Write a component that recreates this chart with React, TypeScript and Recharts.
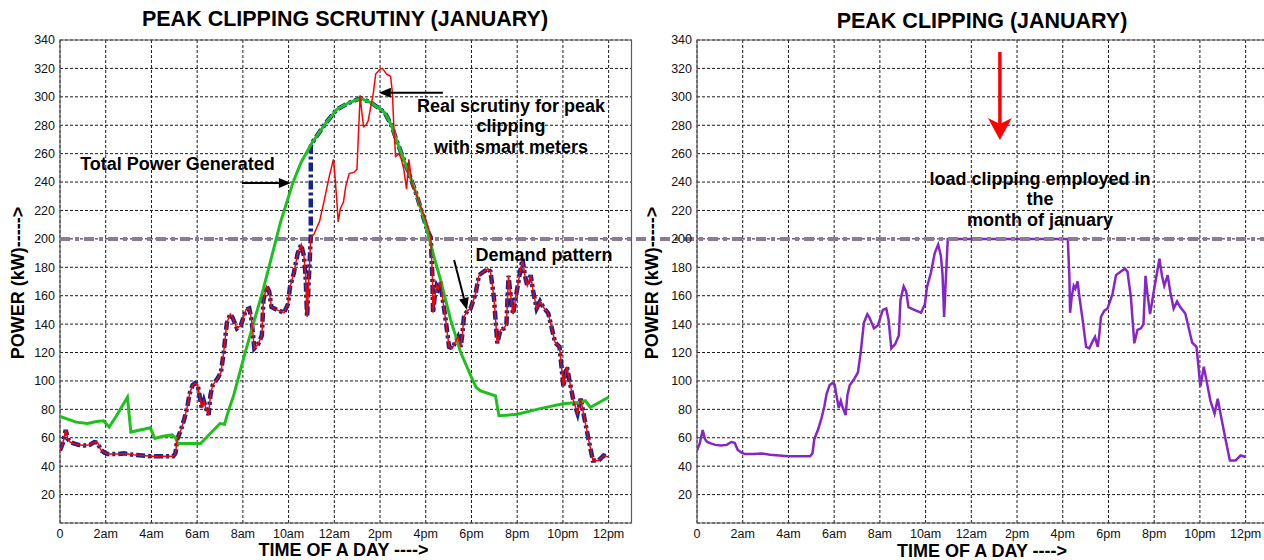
import React from "react";
import {
  LineChart,
  Line,
  XAxis,
  YAxis,
  CartesianGrid,
  ReferenceLine,
  ReferenceArea,
} from "recharts";

// hour of day -> kW
const DEMAND_T = [
  0, 0.12, 0.25, 0.35, 0.45, 0.6, 0.8, 1.05, 1.3, 1.5, 1.65, 1.78, 1.95, 2.1, 2.5, 2.8, 3.2, 3.6, 4.0, 4.5,
  4.95, 5.05, 5.13, 5.3, 5.45, 5.57, 5.67, 5.8, 5.92, 6.02, 6.1, 6.2, 6.29, 6.36, 6.43, 6.5, 6.58, 6.68, 6.9,
  7.04, 7.16, 7.3, 7.45, 7.55, 7.74, 7.91, 8.13, 8.28, 8.38, 8.5, 8.67, 8.83, 8.9, 9.04, 9.15, 9.25, 9.5, 9.8,
  9.97, 10.06, 10.23, 10.4, 10.55, 10.67, 10.74, 10.81, 10.88, 10.97, 11.1, 11.35, 11.57, 11.78, 11.96, 12.04,
  12.12, 12.17, 12.26, 12.4, 12.5, 12.65, 12.87, 12.99, 13.04, 13.13, 13.19, 13.28, 13.38, 13.48, 13.57, 13.71,
  13.81, 14.0, 14.1, 14.29, 14.46, 14.54, 14.6, 14.68, 14.83, 14.93, 15.04, 15.16, 15.26, 15.4, 15.55, 15.77,
  15.99, 16.13, 16.22, 16.29, 16.32, 16.39, 16.48, 16.55, 16.65, 16.73, 16.87, 17.02, 17.16, 17.31, 17.41,
  17.53, 17.6, 17.67, 17.82, 17.96, 18.18, 18.33, 18.54, 18.72, 18.83, 18.98, 19.13, 19.27, 19.42, 19.53,
  19.62, 19.7, 19.82, 19.97, 20.12, 20.23, 20.34, 20.44, 20.59, 20.7, 20.85, 21.0, 21.14, 21.36, 21.5, 21.66,
  21.85, 21.95, 22.02, 22.17, 22.34, 22.46, 22.64, 22.78, 22.9, 23.12, 23.31, 23.56, 23.78, 24.0,
];
const DEMAND_KW = [
  51, 56, 65.5, 59, 57, 56, 55, 54.5, 55, 57, 56.5, 51.5, 49.5, 48.5, 48.5, 49, 48, 47.5, 47, 47,
  47, 49, 59, 66, 74, 82, 91, 97, 98.5, 97.5, 90, 81, 86, 82, 79, 76, 90, 97, 102,
  106, 120, 141, 147, 144.5, 137, 139, 150, 151, 143, 123, 126, 132, 157, 166.5, 163, 152, 150, 148,
  154, 166, 176, 190, 196, 188, 175, 145, 170, 201, 203, 212, 228, 244, 256, 242,
  224, 212, 221, 226, 237, 246, 247, 249, 268, 301, 291, 279, 280, 283, 291, 303,
  316, 319.5, 320, 316, 314.5, 303, 280, 258, 260, 256, 249, 235, 256, 238, 233, 223,
  214, 207, 201, 173, 148, 159, 167, 165, 170, 159, 143, 124, 123, 128, 131,
  124, 133, 145, 149.5, 151, 161.5, 174.5, 177, 179, 177, 159, 126.5, 136, 137, 140,
  174, 162, 147, 162, 176, 186, 174, 167, 174.5, 163, 151, 156, 152, 147.5, 138, 127,
  124, 108, 96, 110, 96, 86, 77, 87.5, 77, 59, 44, 44, 47.5, 46.5,
];

const GEN_T = [
  0, 0.7, 1.2, 1.6, 1.9, 2.15, 2.45, 2.95, 3.1, 3.95, 4.15, 4.5, 4.9, 5.05, 5.15, 6.15, 7.0, 7.2, 7.33, 7.6,
  8.1, 8.9, 9.65, 10.2, 10.55, 11.0, 11.6, 12.1, 12.6, 13.15, 13.6, 14.2, 14.5, 14.75, 15.2, 15.6, 16.05,
  16.35, 16.65, 17.09, 17.53, 17.96, 18.2, 18.4, 19.05, 19.2, 20.0, 21.0, 22.0, 22.75, 22.98, 23.2, 24.0,
];
const GEN_KW = [
  75, 71, 70, 71.5, 72, 67.5, 75, 88.5, 64, 67, 59.5, 61, 62, 60, 56, 56, 70, 69.5, 77, 90,
  120, 165, 212, 240, 254, 267, 281, 291, 295.5, 299, 296, 289, 280, 268, 249, 231, 207,
  188, 171, 143, 120, 104, 95.5, 93, 89.5, 75.5, 76.5, 80.5, 84, 85, 86, 81.5, 88.5,
];

const HOUR_TICKS = [0, 2, 4, 6, 8, 10, 12, 14, 16, 18, 20, 22, 24];
const HOUR_LABELS = ["0", "2am", "4am", "6am", "8am", "10am", "12am", "2pm", "4pm", "6pm", "8pm", "10pm", "12pm"];
const KW_TICKS = [20, 40, 60, 80, 100, 120, 140, 160, 180, 200, 220, 240, 260, 280, 300, 320, 340];

const LIMIT_KW = 200;
const CLIP_ON = 10.97; // smart meters start clipping
const CLIP_OFF = 16.22;
const SCRUTINY_JUMP = 265;

const rows = (ts: number[], vs: number[]) => ts.map((t, i) => ({ t, kw: vs[i] }));
const demand = rows(DEMAND_T, DEMAND_KW);
const generated = rows(GEN_T, GEN_KW);

// blue: demand, but riding the generation curve while clipping is on
const scrutiny = [
  ...demand.filter((d) => d.t <= CLIP_ON),
  { t: CLIP_ON, kw: SCRUTINY_JUMP },
  ...generated.filter((d) => d.t > CLIP_ON && d.t < CLIP_OFF),
  ...demand.filter((d) => d.t >= CLIP_OFF),
];

// purple: demand held at the limit
const clipped = [
  ...demand.filter((d) => d.t < CLIP_ON),
  { t: CLIP_ON, kw: LIMIT_KW },
  { t: CLIP_OFF, kw: LIMIT_KW },
  ...demand.filter((d) => d.t > CLIP_OFF),
];

const PAGE_W = 1264;
const PAGE_H = 560;
const AXIS_W = 60;
const AXIS_H = 37;
const PLOT_TOP = 40;
const PLOT_W = 571.5;
const RIGHT_X = 637;
const RIGHT_CHART_W = 640;

const FONT = "'Liberation Sans', Arial, Helvetica, sans-serif";
const LIMIT_COLOR = "#8c7b95";
const LIMIT_DASH = "10 5 4 5";

const tickStyle = { fontSize: 12.5, fill: "#111", fontFamily: FONT };

function arrow(color: string, width: number, headLen: number, headHalf: number, notch = 0) {
  return (p: any) => {
    const { x1, y1, x2, y2 } = p;
    const len = Math.hypot(x2 - x1, y2 - y1) || 1;
    const ux = (x2 - x1) / len;
    const uy = (y2 - y1) / len;
    const bx = x2 - ux * headLen;
    const by = y2 - uy * headLen;
    const px = -uy * headHalf;
    const py = ux * headHalf;
    const nx = bx + ux * notch;
    const ny = by + uy * notch;
    return (
      <g>
        <line x1={x1} y1={y1} x2={nx} y2={ny} stroke={color} strokeWidth={width} />
        <polygon
          points={`${x2},${y2} ${bx + px},${by + py} ${nx},${ny} ${bx - px},${by - py}`}
          fill={color}
        />
      </g>
    );
  };
}

function Txt({
  x,
  y,
  size,
  rotate,
  lh,
  children,
}: {
  x: number;
  y: number;
  size: number;
  rotate?: boolean;
  lh?: number;
  children: React.ReactNode;
}) {
  return (
    <div
      style={{
        position: "absolute",
        left: x,
        top: y,
        transform: `translate(-50%, -50%)${rotate ? " rotate(-90deg)" : ""}`,
        fontFamily: FONT,
        fontWeight: 700,
        fontSize: size,
        lineHeight: lh ? `${lh}px` : 1,
        whiteSpace: "pre",
        textAlign: "center",
        color: "#000",
      }}
    >
      {children}
    </div>
  );
}

function axesFor() {
  return [
    <XAxis
      key="x"
      dataKey="t"
      type="number"
      domain={[0, 25]}
      allowDataOverflow
      ticks={HOUR_TICKS}
      interval={0}
      tickFormatter={(v: number) => HOUR_LABELS[HOUR_TICKS.indexOf(v)]}
      tick={tickStyle}
      tickLine={false}
      axisLine={false}
      tickSize={0}
      tickMargin={6}
      height={AXIS_H}
    />,
    <YAxis
      key="y"
      type="number"
      domain={[0, 340]}
      allowDataOverflow
      ticks={KW_TICKS}
      interval={0}
      tick={tickStyle}
      tickLine={false}
      axisLine={false}
      tickSize={0}
      tickMargin={5}
      width={AXIS_W}
    />,
    <CartesianGrid key="g" stroke="#1a1a1a" strokeDasharray="3 2" />,
  ];
}

export default function App() {
  return (
    <div
      style={{
        position: "absolute",
        left: 0,
        top: 0,
        width: PAGE_W,
        height: PAGE_H,
        overflow: "hidden",
        background: "#fff",
      }}
    >
      <div style={{ position: "absolute", left: 0, top: 0 }}>
        <LineChart
          width={PAGE_W}
          height={PAGE_H}
          margin={{ top: PLOT_TOP, right: PAGE_W - AXIS_W - PLOT_W, bottom: 0, left: 0 }}
        >
          {axesFor()}
          <ReferenceArea x1={0} x2={25} y1={0} y2={340} fill="none" stroke="#5a5a5a" strokeWidth={1.2} />
          <ReferenceLine
            y={LIMIT_KW}
            stroke={LIMIT_COLOR}
            strokeWidth={4}
            strokeDasharray={LIMIT_DASH}
            shape={(p: any) => (
              <line
                x1={p.x1}
                y1={p.y1}
                x2={PAGE_W}
                y2={p.y2}
                stroke={LIMIT_COLOR}
                strokeWidth={4}
                strokeDasharray={LIMIT_DASH}
              />
            )}
          />
          <Line
            data={scrutiny}
            dataKey="kw"
            type="linear"
            stroke="#14258f"
            strokeWidth={4.5}
            strokeDasharray="9 3 3 3"
            dot={false}
            isAnimationActive={false}
          />
          <Line
            data={generated}
            dataKey="kw"
            type="linear"
            stroke="#1ec01e"
            strokeWidth={3}
            dot={false}
            isAnimationActive={false}
          />
          <Line
            data={demand}
            dataKey="kw"
            type="linear"
            stroke="#ff0000"
            strokeWidth={1.5}
            dot={false}
            isAnimationActive={false}
          />
          <ReferenceLine
            segment={[{ x: 7.96, y: 239.3 }, { x: 10.1, y: 239.3 }]}
            shape={arrow("#000", 2, 12, 5)}
          />
          <ReferenceLine
            segment={[{ x: 16.75, y: 302.9 }, { x: 13.95, y: 302.9 }]}
            shape={arrow("#000", 2, 12, 5)}
          />
          <ReferenceLine
            segment={[{ x: 17.24, y: 185.1 }, { x: 17.8, y: 150 }]}
            shape={arrow("#000", 2, 12, 5)}
          />
        </LineChart>
      </div>

      <div style={{ position: "absolute", left: RIGHT_X, top: 0 }}>
        <LineChart
          width={RIGHT_CHART_W}
          height={PAGE_H}
          margin={{ top: PLOT_TOP, right: RIGHT_CHART_W - AXIS_W - PLOT_W, bottom: 0, left: 0 }}
        >
          {axesFor()}
          <ReferenceArea x1={0} x2={25} y1={0} y2={340} fill="none" stroke="#5a5a5a" strokeWidth={1.2} />
          <Line
            data={clipped}
            dataKey="kw"
            type="linear"
            stroke="#8526c8"
            strokeWidth={2.5}
            dot={false}
            isAnimationActive={false}
          />
          <ReferenceLine
            y={LIMIT_KW}
            stroke={LIMIT_COLOR}
            strokeWidth={4}
            strokeDasharray={LIMIT_DASH}
            strokeDashoffset={RIGHT_X % 24}
          />
          <ReferenceLine
            segment={[{ x: 13.25, y: 331.5 }, { x: 13.25, y: 269.6 }]}
            shape={arrow("#ff0000", 3.5, 22, 12, 6)}
          />
        </LineChart>
      </div>

      <Txt x={345} y={19.5} size={21.5}>PEAK CLIPPING SCRUTINY (JANUARY)</Txt>
      <Txt x={982} y={22} size={21.5}>PEAK CLIPPING (JANUARY)</Txt>

      <Txt x={177.5} y={164} size={18}>Total Power Generated</Txt>
      <Txt x={511} y={126.5} size={18} lh={20.5}>
        {"Real scrutiny for peak\nclipping\nwith smart meters"}
      </Txt>
      <Txt x={544} y={255} size={18}>Demand pattern</Txt>
      <Txt x={1040} y={199.5} size={18} lh={20.5}>
        {"load clipping employed in\nthe\nmonth of january"}
      </Txt>

      <Txt x={18} y={283} size={18} rotate>POWER (kW)-----&gt;</Txt>
      <Txt x={652} y={283} size={18} rotate>POWER (kW)-----&gt;</Txt>
      <Txt x={343.5} y={550} size={18}>TIME OF A DAY ----&gt;</Txt>
      <Txt x={982} y={550.5} size={18}>TIME OF A DAY ----&gt;</Txt>
    </div>
  );
}
